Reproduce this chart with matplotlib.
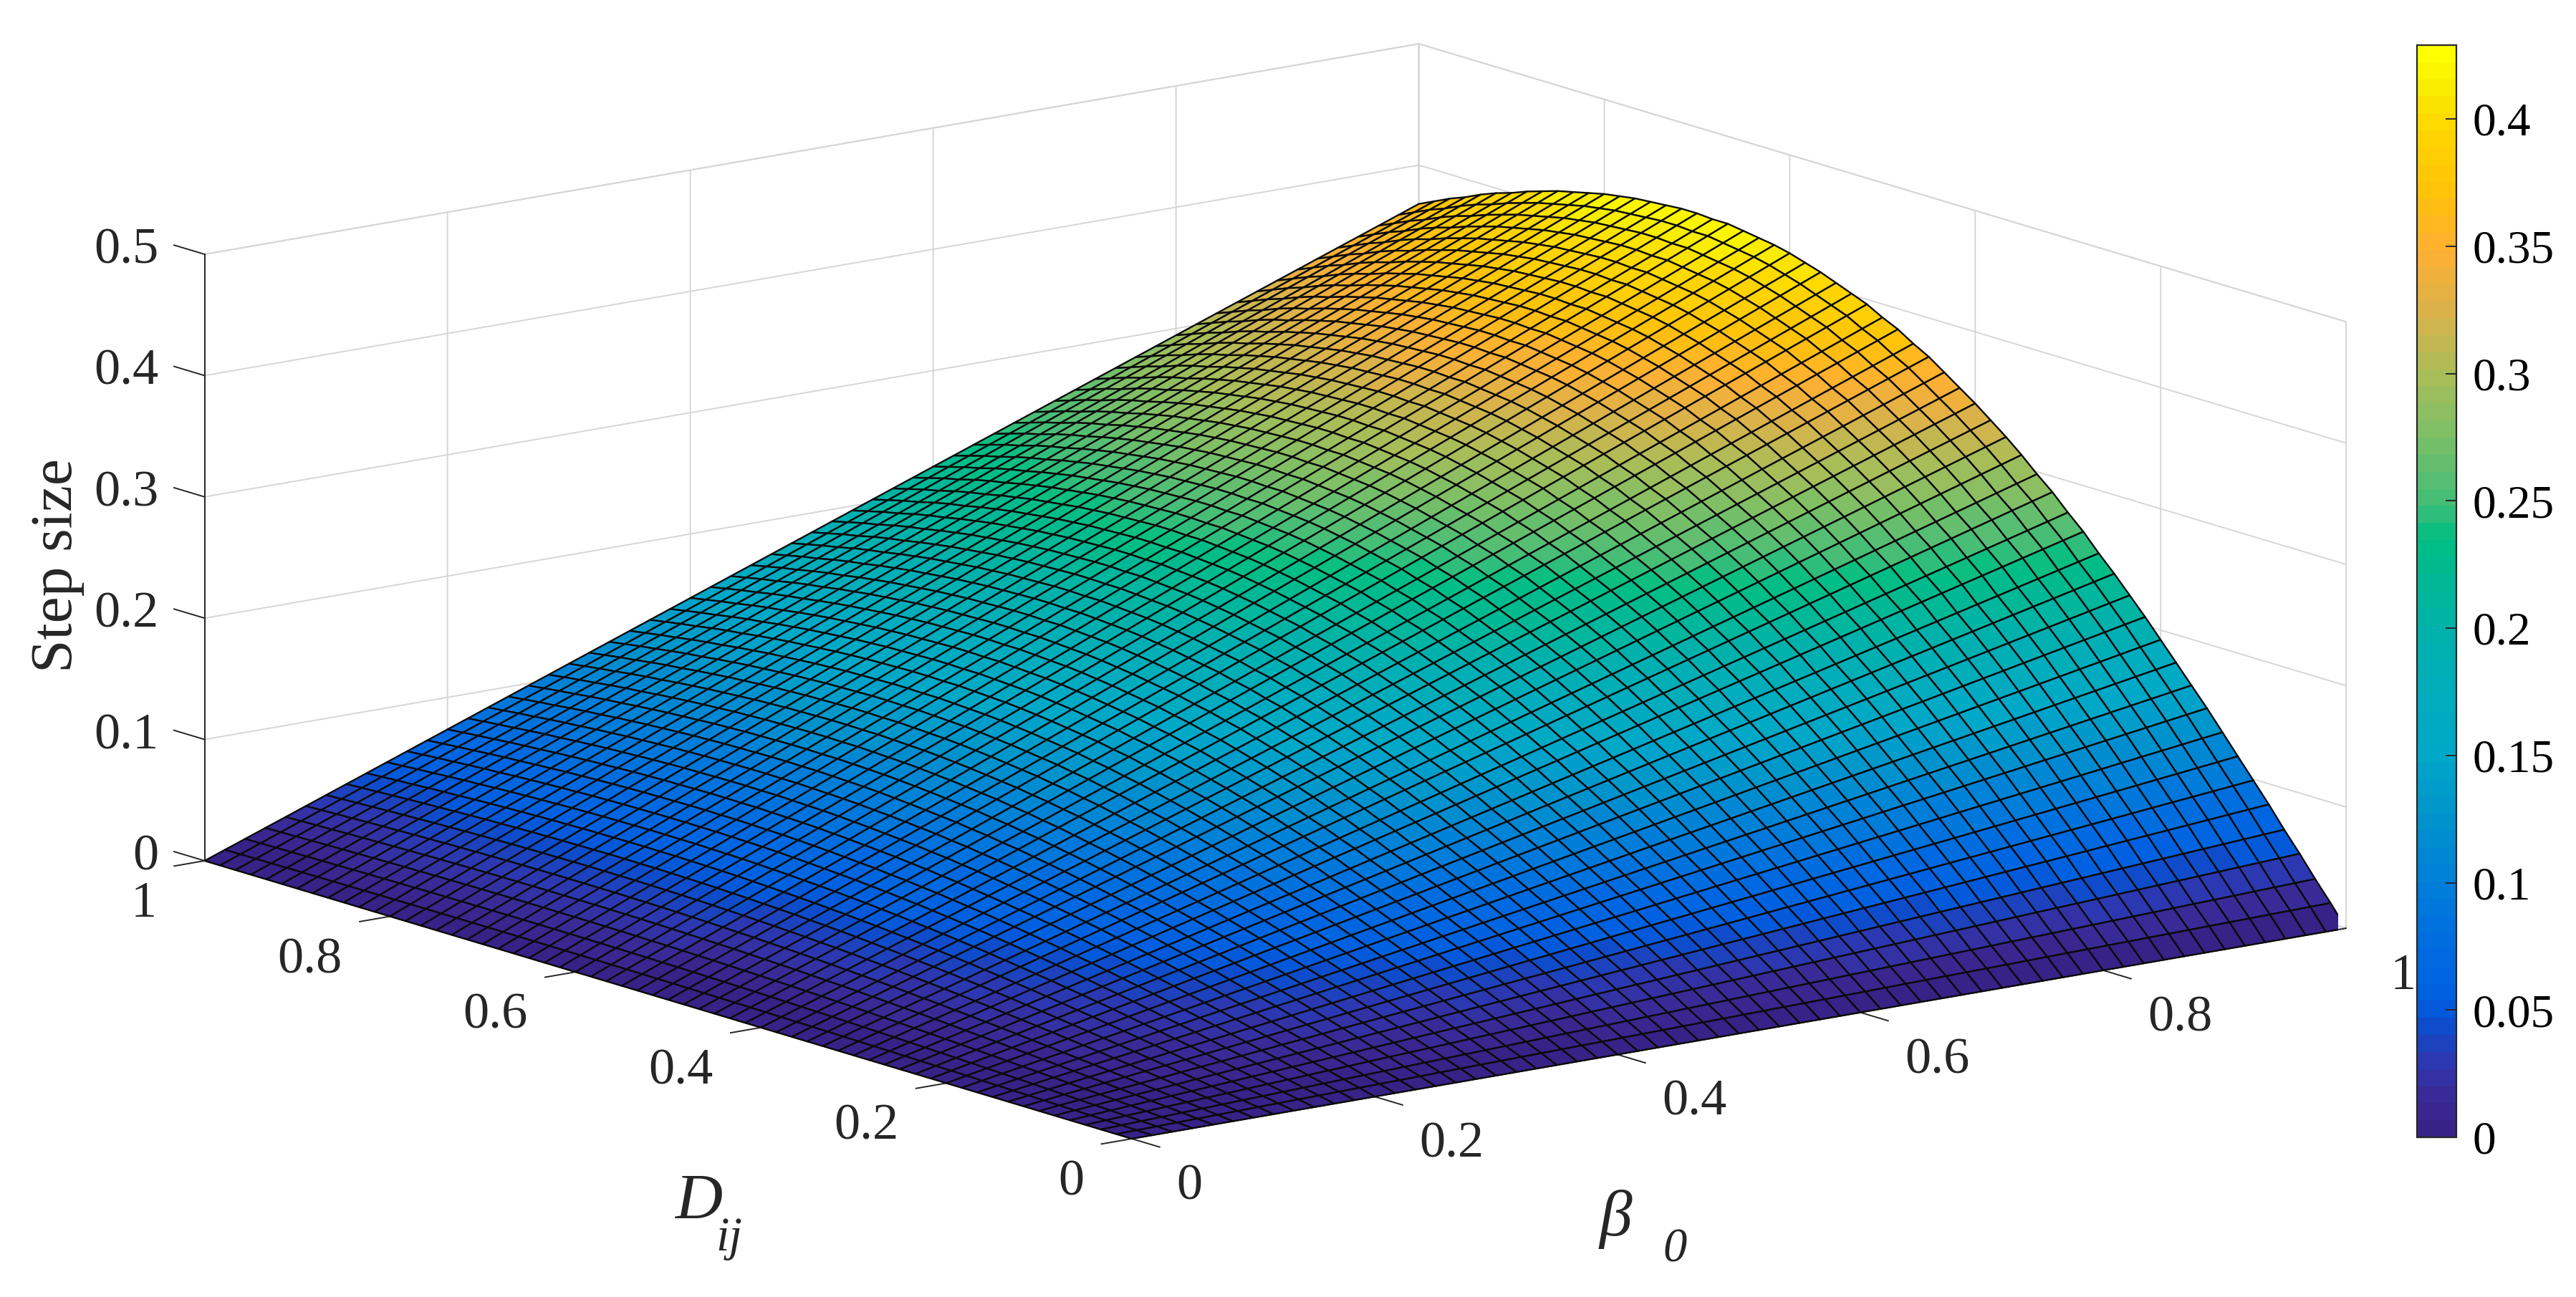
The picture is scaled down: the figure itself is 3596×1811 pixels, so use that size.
#!/usr/bin/env python3
# -*- coding: utf-8 -*-
import numpy as np
import matplotlib
matplotlib.use("Agg")
import matplotlib.pyplot as plt
from matplotlib.colors import LinearSegmentedColormap, Normalize
from matplotlib.cm import ScalarMappable
from mpl_toolkits.mplot3d import proj3d

# grid of the surface, same steps on both axes (about 12 cells per 0.2)
grid_steps = [0.0000, 0.0167, 0.0333, 0.0500, 0.0667, 0.0833, 0.1000, 0.1167, 0.1333, 0.1500,
              0.1667, 0.1833, 0.2000, 0.2167, 0.2333, 0.2500, 0.2667, 0.2833, 0.3000, 0.3167,
              0.3333, 0.3500, 0.3667, 0.3833, 0.4000, 0.4167, 0.4333, 0.4500, 0.4667, 0.4833,
              0.5000, 0.5167, 0.5333, 0.5500, 0.5667, 0.5833, 0.6000, 0.6167, 0.6333, 0.6500,
              0.6667, 0.6833, 0.7000, 0.7167, 0.7333, 0.7500, 0.7667, 0.7833, 0.8000, 0.8167,
              0.8333, 0.8500, 0.8667, 0.8833, 0.9000, 0.9167, 0.9333, 0.9500, 0.9667, 0.9833, 1.0000]

# step size along the back edge (beta0 = 1)
edge_step = [0.000, 0.017, 0.033, 0.050, 0.066, 0.083, 0.099, 0.115, 0.131, 0.147,
             0.162, 0.177, 0.192, 0.207, 0.221, 0.235, 0.248, 0.262, 0.274, 0.287,
             0.298, 0.310, 0.321, 0.331, 0.341, 0.350, 0.359, 0.368, 0.375, 0.383,
             0.389, 0.396, 0.401, 0.406, 0.411, 0.415, 0.419, 0.422, 0.424, 0.426,
             0.428, 0.428, 0.429, 0.429, 0.428, 0.427, 0.426, 0.424, 0.422, 0.419,
             0.416, 0.413, 0.409, 0.405, 0.400, 0.396, 0.391, 0.385, 0.380, 0.374, 0.368]

axis_ticks = [0, 0.2, 0.4, 0.6, 0.8, 1]
axis_tick_labels = ["0", "0.2", "0.4", "0.6", "0.8", "1"]
z_ticks = [0, 0.1, 0.2, 0.3, 0.4, 0.5]
z_tick_labels = ["0", "0.1", "0.2", "0.3", "0.4", "0.5"]
cbar_ticks = [0, 0.05, 0.1, 0.15, 0.2, 0.25, 0.3, 0.35, 0.4]
cbar_tick_labels = ["0", "0.05", "0.1", "0.15", "0.2", "0.25", "0.3", "0.35", "0.4"]

# colours
cmap_pos = [0.0, 0.03, 0.06, 0.10, 0.117, 0.17, 0.233, 0.29, 0.35, 0.45, 0.55,
            0.58, 0.64, 0.70, 0.76, 0.82, 0.87, 0.93, 0.97, 1.0]
cmap_col = ["#372287", "#3a2a96", "#2f36ae", "#0a4fcf", "#005fe0", "#006be0",
            "#0080d8", "#0094cc", "#00a8c8", "#00b0b0", "#00be82", "#40bd78",
            "#78bf68", "#a8bd58", "#dab24a", "#ffb030", "#ffc20a", "#ffd600",
            "#f8ee00", "#ffff00"]

W, H = 3596, 1811
DARK = '#262626'
GRID = '#d6d6d6'
plt.rcParams['font.family'] = ['Liberation Serif', 'DejaVu Serif']
plt.rcParams['text.color'] = DARK
FS = 26

cmap = LinearSegmentedColormap.from_list("parula_ish", list(zip(cmap_pos, cmap_col)), N=64)

beta = np.array(grid_steps)
dij = np.array(grid_steps)
B, D = np.meshgrid(beta, dij)
Z = np.outer(np.array(edge_step), beta)
norm = Normalize(0, Z.max())

fig = plt.figure(figsize=(W / 200, H / 200), dpi=200)
ax = fig.add_axes([0, 0, 1, 1], projection='3d')
ax.set_proj_type('ortho')
ax.view_init(elev=13.18, azim=-127.25)
ax.set_box_aspect((2130, 2139, 870))
ax.patch.set_alpha(0)

ax.plot_surface(B, D, Z, facecolors=cmap(norm(Z)), rstride=1, cstride=1, shade=False,
                edgecolor='#0a0a0a', linewidth=0.85, antialiased=True)

# z axis sits on the left corner, mplot3d will not put it there
ax.plot([0, 0], [1, 1], [0, 0.5], color=DARK, lw=0.7)
for z in z_ticks:
    ax.plot([0, 0], [1, 1.033], [z, z], color=DARK, lw=0.7)
# outward ticks of the floor axes
for t in axis_ticks:
    ax.plot([t, t], [0, -0.03], [0, 0], color=DARK, lw=0.7)
    ax.plot([0, -0.025], [t, t], [0, 0], color=DARK, lw=0.7)

ax.set_xlim(0, 1, view_margin=0)
ax.set_ylim(0, 1, view_margin=0)
ax.set_zlim(0, 0.5, view_margin=0)
ax.set_xticks(axis_ticks, [""] * len(axis_ticks))
ax.set_yticks(axis_ticks, [""] * len(axis_ticks))
ax.set_zticks(z_ticks, [""] * len(z_ticks))

for a in (ax.xaxis, ax.yaxis, ax.zaxis):
    a.set_pane_color((1, 1, 1, 1))
    a.pane.set_edgecolor(GRID)
    a.pane.set_linewidth(0.7)
    a.line.set_color(DARK)
    a.line.set_linewidth(0.7)
    a._axinfo['grid']['color'] = GRID
    a._axinfo['grid']['linewidth'] = 0.7
    a._axinfo['tick']['inward_factor'] = 0.0
    a._axinfo['tick']['outward_factor'] = 0.0
ax.zaxis.line.set_color((0, 0, 0, 0))


def to_px(x, y, z):
    xs, ys, _ = proj3d.proj_transform(x, y, z, ax.get_proj())
    return ax.transData.transform((xs, ys))


# put the box so its floor corners land where they are in the picture
front_t = np.array([1580, H - 1590])
right_t = np.array([3275, H - 1296])
fig.canvas.draw()
side = 1.0
cx, cy = 0.5, 0.5
for k in range(4):
    ax.set_position([cx - side * H / W / 2, cy - side / 2, side * H / W, side])
    ax.apply_aspect()
    p0 = to_px(0, 0, 0)
    p1 = to_px(1, 0, 0)
    side *= (right_t[0] - front_t[0]) / (p1[0] - p0[0])
    ax.set_position([cx - side * H / W / 2, cy - side / 2, side * H / W, side])
    ax.apply_aspect()
    p0 = to_px(0, 0, 0)
    cx += (front_t[0] - p0[0]) / W
    cy += (front_t[1] - p0[1]) / H
ax.set_position([cx - side * H / W / 2, cy - side / 2, side * H / W, side])
ax.apply_aspect()

# tick labels, offset from the axis points in pixels
for t, lab in zip(axis_ticks, axis_tick_labels):
    px = to_px(t, 0, 0)
    fig.text((px[0] + 62) / W, (px[1] - 67) / H, lab, fontsize=FS, ha='left', va='center')
    px = to_px(0, t, 0)
    fig.text((px[0] - 67) / W, (px[1] - 61) / H, lab, fontsize=FS, ha='right', va='center')
for z, lab in zip(z_ticks, z_tick_labels):
    px = to_px(0, 1, z)
    fig.text((px[0] - 64) / W, (px[1] + 5) / H, lab, fontsize=FS, ha='right', va='center')

# colour bar
cax = fig.add_axes([3374 / W, 1 - 1588 / H, 55 / W, 1525 / H])
cb = fig.colorbar(ScalarMappable(norm=norm, cmap=cmap), cax=cax)
cb.set_ticks(cbar_ticks, labels=cbar_tick_labels)
cb.ax.tick_params(direction='in', length=5.5, width=0.7, labelsize=23.5, pad=8, color=DARK)
cb.outline.set_linewidth(0.8)
cb.outline.set_edgecolor(DARK)

fig.text(80 / W, 1 - 790 / H, "Step size", fontsize=30, rotation=90, ha='center', va='center')
fig.text(975 / W, 1 - 1680 / H, "D", fontsize=33, style='italic', ha='center', va='center')
fig.text(1018 / W, 1 - 1730 / H, "ij", fontsize=24, style='italic', ha='center', va='center')
fig.text(2255 / W, 1 - 1703 / H, "β", fontsize=33, style='italic', ha='center', va='center')
fig.text(2338 / W, 1 - 1745 / H, "0", fontsize=24, style='italic', ha='center', va='center')

fig.savefig("out.png", dpi=200)
